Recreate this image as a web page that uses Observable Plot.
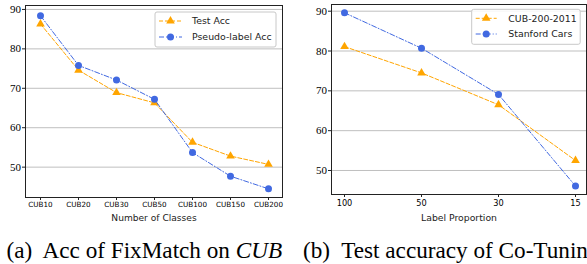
<!DOCTYPE html>
<html>
<head>
<meta charset="utf-8">
<script src="https://cdn.jsdelivr.net/npm/d3@7"></script>
<script src="https://cdn.jsdelivr.net/npm/@observablehq/plot@0.6"></script>
<style>
  html, body { margin: 0; padding: 0; background: #fff; }
  #wrap { position: relative; width: 587px; height: 264px; overflow: hidden; background: #fff; }
  #a { position: absolute; left: 0; top: 0; }
  #b { position: absolute; left: 290px; top: 0; }
  .cap { position: absolute; top: 238.5px; font-family: "Liberation Serif", "Times New Roman", serif; font-size: 23.2px; line-height: 23.2px; white-space: pre; color: #000; }
</style>
</head>
<body>
<div id="wrap">
  <div id="a"></div>
  <div id="b"></div>
  <div class="cap" style="left:6.5px">(a)  Acc of FixMatch on <i>CUB</i></div>
  <div class="cap" style="left:303px">(b)  Test accuracy of Co-Tuning</div>
</div>
<script>
// ---- data ----
const classes = ["CUB10", "CUB20", "CUB30", "CUB50", "CUB100", "CUB150", "CUB200"];
const testAcc = [86.3, 74.6, 68.9, 66.3, 56.3, 52.8, 50.7];
const pseudoAcc = [88.4, 75.8, 72.1, 67.2, 53.7, 47.7, 44.5];

const proportions = ["100", "50", "30", "15"];
const cubAcc = [81.1, 74.5, 66.5, 52.5];
const carsAcc = [89.6, 80.7, 69.1, 46.1];

const yTicks = [50, 60, 70, 80, 90];

const seriesA = [
  {name: "Test Acc", values: testAcc, color: "#FFA500", dash: "4,2", symbol: "triangle"},
  {name: "Pseudo-label Acc", values: pseudoAcc, color: "#4169E1", dash: "5,2,1,2", symbol: "circle"}
];
const seriesB = [
  {name: "CUB-200-2011", values: cubAcc, color: "#FFA500", dash: "4,2", symbol: "triangle"},
  {name: "Stanford Cars", values: carsAcc, color: "#4169E1", dash: "5,2,1,2", symbol: "circle"}
];

function seriesMarks(cats, series) {
  const marks = [];
  for (const s of series) {
    const rows = cats.map((c, i) => ({x: c, y: s.values[i]}));
    marks.push(Plot.line(rows, {x: "x", y: "y", stroke: s.color, strokeWidth: 1, strokeDasharray: s.dash}));
    marks.push(Plot.dot(rows, {x: "x", y: "y", fill: s.color, stroke: "none", symbol: s.symbol, r: s.symbol === "triangle" ? 3.2 : 3.5}));
  }
  return marks;
}

function addLegend(svg, series, box, sample, textX, rowsY, fontSize) {
  const g = d3.select(svg).append("g").attr("text-anchor", "start");
  g.append("rect").attr("x", box[0]).attr("y", box[1]).attr("width", box[2]).attr("height", box[3])
    .attr("rx", 2).attr("fill", "#fff").attr("fill-opacity", 0.85).attr("stroke", "#c8c8c8").attr("stroke-width", 1);
  series.forEach((s, i) => {
    const y = rowsY[i];
    g.append("line").attr("x1", sample[0]).attr("x2", sample[1]).attr("y1", y).attr("y2", y)
      .attr("stroke", s.color).attr("stroke-width", 1).attr("stroke-dasharray", s.dash);
    const cx = (sample[0] + sample[1]) / 2;
    const sym = s.symbol === "triangle" ? d3.symbolTriangle : d3.symbolCircle;
    const r = s.symbol === "triangle" ? 3.2 : 3.5;
    g.append("path").attr("d", d3.symbol(sym, Math.PI * r * r)()).attr("transform", `translate(${cx},${y})`).attr("fill", s.color);
    g.append("text").attr("x", textX).attr("y", y).attr("dy", "0.35em").attr("text-anchor", "start")
      .attr("font-family", "DejaVu Sans, sans-serif").attr("font-size", fontSize).attr("fill", "#222").text(s.name);
  });
}

// ---- chart A ----
const chartA = Plot.plot({
  width: 290, height: 226,
  marginLeft: 25, marginRight: 8, marginTop: 5, marginBottom: 29,
  style: {background: "transparent", overflow: "visible"},
  x: {type: "point", domain: classes, range: [37.7, 270], padding: 0},
  y: {domain: [42.3, 91]},
  marks: [
    Plot.gridY(yTicks, {stroke: "#b8b8b8", strokeOpacity: 1, strokeWidth: 0.9}),
    ...seriesMarks(classes, seriesA),
    Plot.frame({stroke: "#222", strokeWidth: 1}),
    Plot.axisY(yTicks, {tickSize: 3, tickPadding: 1.5, fontSize: 11, fontFamily: "Liberation Serif, serif", label: null, stroke: "#222"}),
    Plot.axisX({tickSize: 3, tickPadding: 1.5, fontSize: 7.2, fontFamily: "DejaVu Sans, sans-serif", label: null, stroke: "#222"}),
    Plot.text(["Number of Classes"], {frameAnchor: "bottom", lineAnchor: "middle", dy: 20.5, fontSize: 9.1, fontFamily: "DejaVu Sans, sans-serif", fill: "#222"})
  ]
});
document.getElementById("a").append(chartA);
addLegend(chartA, seriesA, [155, 12, 121, 35], [159, 182], 192, [21, 37], 9.4);

// ---- chart B ----
const chartB = Plot.plot({
  width: 297, height: 226,
  marginLeft: 41, marginRight: 1, marginTop: 4, marginBottom: 32,
  style: {background: "transparent", overflow: "visible"},
  x: {type: "point", domain: proportions, range: [52.7, 285.7], padding: 0},
  y: {domain: [43.97, 91.68]},
  marks: [
    Plot.gridY(yTicks, {stroke: "#b8b8b8", strokeOpacity: 1, strokeWidth: 0.9}),
    ...seriesMarks(proportions, seriesB),
    Plot.frame({stroke: "#222", strokeWidth: 1}),
    Plot.axisY(yTicks, {tickSize: 3, tickPadding: 1.5, fontSize: 11, fontFamily: "Liberation Serif, serif", label: null, stroke: "#222"}),
    Plot.axisX({tickSize: 3, tickPadding: 3, fontSize: 8.2, fontFamily: "DejaVu Sans, sans-serif", label: null, stroke: "#222"}),
    Plot.text(["Label Proportion"], {frameAnchor: "bottom", lineAnchor: "middle", dy: 23.5, fontSize: 9.3, fontFamily: "DejaVu Sans, sans-serif", fill: "#222"})
  ]
});
document.getElementById("b").append(chartB);
addLegend(chartB, seriesB, [181.7, 9.3, 108.5, 35], [185.7, 206.7], 218.3, [18.3, 34], 9.4);
</script>
</body>
</html>
